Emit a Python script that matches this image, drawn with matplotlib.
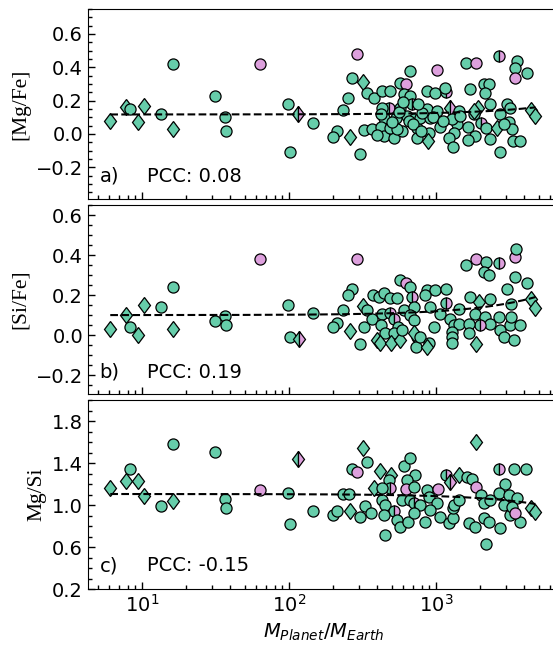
import numpy as np
import matplotlib.pyplot as plt
from matplotlib.markers import MarkerStyle
from matplotlib.transforms import Affine2D
from matplotlib.ticker import MultipleLocator, LogLocator, NullFormatter

GREEN = 'mediumaquamarine'
VIOLET = 'plum'

# kind codes: first letter = fill (g green, v violet, h half green/violet),
# second letter = marker (o circle, d thin diamond)

# ---- a) [Mg/Fe] ----
mgfe_mass = [6.1, 7.8, 8.3, 9.4, 10.3, 13.5, 16.2, 16.3, 31.5, 36.9, 37.4, 64,
             98, 116, 102, 147, 290, 268, 317, 339, 377, 252, 233, 212, 201, 261,
             305, 322, 367, 430, 484, 572, 628, 668, 603, 668, 476, 430, 687, 572,
             441, 537, 635, 423, 528, 441, 515, 587, 705, 743, 869, 989, 1175, 869,
             1016, 782, 914, 1059, 743, 891, 878, 1250, 1425, 1390, 1320, 1220, 1306,
             1607, 1871, 1710, 2108, 2305, 2163, 2666, 3556, 3467, 3467, 4158, 1931,
             2316, 1803, 1642, 1850, 1642, 2023, 2199, 2342, 2602, 2710, 3043, 3205,
             3121, 3290, 3343, 3744, 2710, 4460, 4755, 397, 489, 543, 652, 803, 1286,
             1462, 2884, 1016, 1156, 1803, 420, 500, 560, 700, 790, 950, 1120, 600, 760]
mgfe_val = [0.08, 0.16, 0.15, 0.07, 0.165, 0.12, 0.03, 0.42, 0.23, 0.10, 0.02, 0.42,
            0.177, 0.117, -0.11, 0.066, 0.479, 0.338, 0.312, 0.247, 0.217, 0.217, 0.141,
            0.02, -0.02, -0.02, -0.12, 0.026, 0.032, 0.258, 0.258, 0.308, 0.298, 0.378,
            0.238, 0.228, 0.157, 0.157, 0.177, 0.153, 0.097, 0.097, 0.107, 0.04, 0.036,
            -0.014, -0.024, 0.016, 0.087, 0.036, 0.258, 0.247, 0.253, 0.147, 0.137,
            0.097, 0.093, 0.04, -0.024, 0.006, -0.044, 0.157, 0.137, 0.057, 0.006,
            -0.024, -0.08, 0.428, 0.428, 0.268, 0.298, 0.298, 0.247, 0.469, 0.435,
            0.398, 0.338, 0.368, 0.153, 0.177, 0.117, 0.04, -0.014, -0.034, 0.066,
            0.036, -0.028, 0.036, 0.117, 0.181, 0.153, 0.072, 0.027, -0.04, -0.04,
            -0.11, 0.145, 0.11, -0.004, 0.036, 0.027, 0.077, 0.127, 0.087, 0.107,
            0.057, 0.386, 0.278, 0.137, 0.12, 0.07, 0.13, 0.06, 0.02, 0.10, 0.08,
            0.19, 0.18]
mgfe_kind = ['gd', 'gd', 'go', 'gd', 'gd', 'go', 'gd', 'go', 'go', 'go', 'go', 'vo',
             'go', 'hd', 'go', 'go', 'vo', 'go', 'gd', 'go', 'go', 'go', 'go', 'go',
             'go', 'gd', 'go', 'go', 'go', 'go', 'go', 'go', 'vo', 'go', 'go', 'go',
             'ho', 'go', 'ho', 'go', 'go', 'go', 'go', 'go', 'ho', 'go', 'go', 'go',
             'go', 'go', 'go', 'go', 'ho', 'go', 'go', 'go', 'go', 'go', 'go', 'go',
             'gd', 'hd', 'go', 'go', 'go', 'go', 'go', 'go', 'vo', 'go', 'go', 'go',
             'go', 'ho', 'go', 'go', 'vo', 'go', 'gd', 'go', 'go', 'go', 'go', 'go',
             'ho', 'go', 'go', 'gd', 'go', 'go', 'go', 'go', 'go', 'go', 'go', 'go',
             'gd', 'gd', 'go', 'go', 'go', 'go', 'go', 'go', 'go', 'go', 'vo', 'go',
             'gd', 'go', 'go', 'go', 'go', 'go', 'go', 'go', 'go', 'go']

# ---- b) [Si/Fe] ----
sife_mass = [6.1, 7.8, 8.3, 9.4, 10.3, 13.5, 16.2, 16.3, 31.5, 36.9, 37.4, 64,
             98, 102, 118, 147, 290, 268, 252, 233, 212, 201, 261, 305, 322, 319,
             339, 367, 372, 410, 441, 484, 543, 572, 628, 668, 689, 430, 484, 521,
             603, 705, 668, 423, 450, 556, 515, 395, 419, 496, 572, 587, 705, 743,
             731, 705, 869, 989, 1164, 843, 914, 1175, 1061, 1250, 1425, 1320, 1443,
             1286, 1286, 1286, 967, 775, 891, 869, 1607, 1871, 2207, 2666, 2108,
             2282, 1710, 2342, 1951, 1850, 2163, 2342, 1997, 1687, 1687, 1871, 2666,
             2740, 2884, 3166, 3240, 3400, 3744, 3043, 3240, 3467, 3467, 3520, 4158,
             4460, 4755]
sife_val = [0.032, 0.10, 0.04, 0.0, 0.15, 0.14, 0.03, 0.24, 0.07, 0.095, 0.05, 0.38,
            0.153, -0.008, -0.022, 0.112, 0.38, 0.233, 0.203, 0.125, 0.063, 0.042,
            0.022, -0.047, 0.042, 0.145, 0.125, 0.083, 0.20, 0.19, 0.21, 0.188, 0.188,
            0.275, 0.26, 0.24, 0.19, 0.108, 0.11, 0.083, 0.125, 0.14, 0.10, 0.05,
            0.008, 0.042, 0.008, -0.025, -0.042, -0.042, -0.025, 0.025, 0.075, -0.008,
            -0.058, 0.008, 0.225, 0.225, 0.233, 0.20, 0.14, 0.16, 0.108, 0.083, 0.133,
            0.05, 0.055, 0.017, -0.008, -0.042, 0.042, -0.008, -0.038, -0.058, 0.353,
            0.38, 0.367, 0.363, 0.317, 0.30, 0.19, 0.183, 0.167, 0.108, 0.092, 0.058,
            0.05, 0.058, 0.012, -0.047, 0.092, 0.025, -0.008, 0.05, 0.092, -0.025,
            0.05, 0.233, 0.155, 0.292, 0.392, 0.433, 0.263, 0.183, 0.138]
sife_kind = ['gd', 'gd', 'go', 'gd', 'gd', 'go', 'gd', 'go', 'go', 'go', 'go', 'vo',
             'go', 'go', 'hd', 'go', 'vo', 'go', 'go', 'go', 'go', 'go', 'gd', 'go',
             'go', 'gd', 'go', 'go', 'go', 'go', 'go', 'go', 'go', 'go', 'vo', 'go',
             'ho', 'go', 'ho', 'ho', 'go', 'go', 'go', 'go', 'go', 'go', 'go', 'gd',
             'gd', 'gd', 'gd', 'go', 'go', 'go', 'go', 'gd', 'go', 'go', 'go', 'go',
             'go', 'ho', 'go', 'go', 'go', 'go', 'go', 'go', 'go', 'go', 'go', 'go',
             'go', 'gd', 'go', 'vo', 'go', 'ho', 'go', 'go', 'go', 'go', 'gd', 'go',
             'go', 'go', 'ho', 'go', 'go', 'gd', 'go', 'go', 'go', 'go', 'go', 'go',
             'go', 'go', 'go', 'go', 'vo', 'go', 'go', 'gd', 'gd']

# ---- c) Mg/Si ----
mgsi_mass = [6.1, 7.8, 8.3, 9.4, 10.3, 13.5, 16.2, 16.3, 31.5, 36.9, 37.4, 64,
             98, 102, 116, 147, 201, 212, 261, 305, 329, 268, 290, 339, 319, 233,
             255, 419, 496, 377, 603, 668, 719, 635, 476, 484, 430, 628, 705, 430,
             450, 587, 668, 705, 782, 521, 441, 543, 572, 642, 450, 362, 705, 843,
             869, 891, 1016, 1061, 914, 1032, 1179, 1256, 1220, 1306, 1306, 1320,
             1425, 1443, 1630, 1753, 1871, 1871, 1687, 1850, 2207, 2108, 2305, 2023,
             2108, 2342, 2710, 2666, 3415, 4100, 2965, 2666, 3121, 3545, 2884, 3205,
             3290, 3710, 3467, 4460, 4755]
mgsi_val = [1.165, 1.23, 1.343, 1.23, 1.09, 0.993, 1.04, 1.578, 1.505, 1.057, 0.97,
            1.146, 1.111, 0.819, 1.435, 0.943, 0.905, 0.946, 0.943, 0.883, 0.99,
            1.343, 1.311, 1.413, 1.54, 1.102, 1.102, 1.324, 1.286, 1.159, 1.371,
            1.445, 1.286, 1.238, 1.238, 1.165, 1.165, 1.149, 1.174, 1.048, 1.0,
            1.048, 1.048, 1.016, 1.0, 0.946, 0.905, 0.857, 0.793, 0.841, 0.714,
            0.921, 0.921, 0.841, 1.143, 1.079, 1.016, 0.889, 0.952, 1.149, 1.286,
            1.222, 0.826, 0.873, 0.968, 1.0, 1.048, 1.286, 1.264, 1.245, 1.169,
            1.603, 0.826, 0.788, 0.629, 0.873, 0.841, 1.095, 1.016, 1.048, 0.778,
            1.343, 1.343, 1.343, 1.197, 1.111, 1.095, 1.064, 1.0, 0.905, 0.984,
            0.841, 0.921, 0.968, 0.936]
mgsi_kind = ['gd', 'gd', 'go', 'gd', 'gd', 'go', 'gd', 'go', 'go', 'go', 'go', 'vo',
             'go', 'go', 'hd', 'go', 'go', 'go', 'gd', 'go', 'go', 'go', 'vo', 'go',
             'gd', 'go', 'go', 'gd', 'gd', 'gd', 'go', 'go', 'go', 'go', 'go', 'ho',
             'go', 'vo', 'go', 'go', 'go', 'go', 'go', 'ho', 'go', 'ho', 'go', 'go',
             'go', 'go', 'go', 'go', 'go', 'go', 'go', 'go', 'go', 'go', 'go', 'vo',
             'ho', 'hd', 'go', 'go', 'go', 'go', 'go', 'gd', 'go', 'go', 'vo', 'gd',
             'go', 'go', 'go', 'go', 'go', 'go', 'go', 'go', 'go', 'ho', 'go', 'go',
             'go', 'go', 'go', 'go', 'go', 'go', 'go', 'go', 'vo', 'gd', 'gd']

# linear fits (value = intercept + slope * mass)
fit_intercept = [0.117, 0.100, 1.105]
fit_slope = [9e-6, 1.9e-5, -2.0e-5]
pcc = [0.08, 0.19, -0.15]
panel_tags = ['a)', 'b)', 'c)']
ylabels = ['[Mg/Fe]', '[Si/Fe]', 'Mg/Si']

# slightly wider than the stock thin diamond
WIDE_D = Affine2D().scale(1.15, 1.0)


def draw_points(ax, mass, val, kind):
    for m, v, k in zip(mass, val, kind):
        fill = 'left' if k[0] == 'h' else 'full'
        if k[1] == 'd':
            mk, ms = MarkerStyle('d', fillstyle=fill, transform=WIDE_D), 8.2
        else:
            mk, ms = MarkerStyle('o', fillstyle=fill), 8.0
        kw = dict(marker=mk, ms=ms, mec='black', mew=0.9, ls='none', zorder=3)
        if k[0] == 'h':
            kw.update(mfc=GREEN, markerfacecoloralt=VIOLET)
        else:
            kw['mfc'] = GREEN if k[0] == 'g' else VIOLET
        ax.plot([m], [v], **kw)


fig = plt.figure(figsize=(5.53, 6.45), dpi=100)
W = 0.854
axes = [fig.add_axes([0.159, 0.6915, W, 0.2946]),
        fig.add_axes([0.159, 0.389, W, 0.293]),
        fig.add_axes([0.159, 0.0868, W, 0.293])]

data = [(mgfe_mass, mgfe_val, mgfe_kind),
        (sife_mass, sife_val, sife_kind),
        (mgsi_mass, mgsi_val, mgsi_kind)]
ylims = [(-0.39, 0.75), (-0.295, 0.65), (0.2, 2.0)]
ymajor = [MultipleLocator(0.2), MultipleLocator(0.2), MultipleLocator(0.4, offset=0.2)]
yminor = [0.05, 0.05, 0.1]
tag_y = [0.12, 0.116, 0.123]

for i, ax in enumerate(axes):
    mass, val, kind = data[i]
    draw_points(ax, mass, val, kind)

    xs = np.geomspace(min(mass), max(mass), 300)
    ax.plot(xs, fit_intercept[i] + fit_slope[i] * xs, 'k--', lw=1.5, zorder=5)

    ax.set_xscale('log')
    ax.set_xlim(4.3, 7000)
    ax.set_ylim(*ylims[i])
    ax.yaxis.set_major_locator(ymajor[i])
    ax.yaxis.set_minor_locator(MultipleLocator(yminor[i]))
    ax.xaxis.set_minor_locator(LogLocator(base=10, subs=np.arange(2, 10)))
    ax.xaxis.set_minor_formatter(NullFormatter())
    ax.tick_params(which='both', direction='in', labelsize=14, width=1)
    ax.tick_params(which='major', length=5)
    ax.tick_params(which='minor', length=3)
    if i < 2:
        ax.tick_params(labelbottom=False)
    ax.set_ylabel(ylabels[i], fontsize=15.5, family='Liberation Serif')

    ax.text(0.025, tag_y[i], panel_tags[i], transform=ax.transAxes,
            fontsize=14, va='center')
    ax.text(0.125, tag_y[i], 'PCC: %.2f' % pcc[i], transform=ax.transAxes,
            fontsize=14, va='center')

axes[2].set_xlabel(r'$M_{Planet}/M_{Earth}$', fontsize=14)

fig.savefig('out.png', dpi=100)
